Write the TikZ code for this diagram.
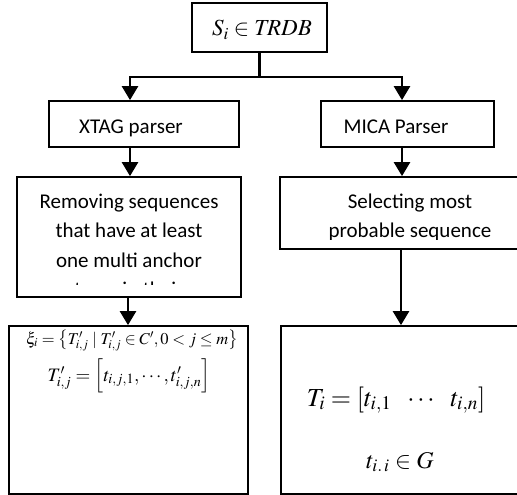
\documentclass[tikz,border=0pt]{standalone}
\usepackage{mathptmx}
\usepackage{fontspec}
\setmainfont{Carlito}
\usetikzlibrary{arrows.meta}
\begin{document}
\begin{tikzpicture}[x=1pt,y=-1pt,
  box/.style={draw, line width=1.8pt, inner sep=0pt},
  link/.style={line width=2.6pt},
  arr/.style={link, -{Triangle[length=14pt,width=16pt]}},
  txt/.style={font=\fontsize{21}{29.5}\selectfont, align=center, inner sep=0pt},
  eq/.style={inner sep=0pt, anchor=base}]
\clip (0,0) rectangle (517,495);

% boxes
\node[box, minimum width=135, minimum height=49] (src) at (259.5,27.5) {};
\node[box, minimum width=190, minimum height=46] (xtag) at (144,124) {};
\node[box, minimum width=173, minimum height=46] (mica) at (407.5,124) {};
\node[box, minimum width=224, minimum height=120] (remove) at (129,237) {};
\node[box, minimum width=265, minimum height=72] (select) at (412.5,213) {};
\node[box, minimum width=239, minimum height=168] (defs) at (128.5,410) {};
\node[box, minimum width=264, minimum height=168] (seq) at (413,410) {};

% texts
\node[eq, font=\fontsize{23}{27}\selectfont] (srct) at (262,36) {$S_i \in \mathit{TRDB}$};
\node[txt, anchor=base] (xtagt) at (131,133) {XTAG parser};
\node[txt, anchor=base] (micat) at (396,133) {MICA Parser};
\begin{scope}
  \clip (17,177) rectangle (241,284.5);
  \node[txt, anchor=north] (removet) at (129,193.5)
    {Removing sequences\\that have at least\\one multi anchor\\trees in their};
\end{scope}
\begin{scope}
  \clip (280,177) rectangle (517,239);
  \node[txt, anchor=north] (selectt) at (410,193.5)
    {Selecting most\\probable sequence};
\end{scope}
\node[eq, font=\fontsize{16.5}{20}\selectfont] (xi) at (132,344)
  {$\xi_i = \bigl\{ T'_{i,j} \mid T'_{i,j} \in C', 0 < j \le m \bigr\}$};
\node[eq, font=\fontsize{19}{23}\selectfont] (tij) at (129,381)
  {$T'_{i,j} = \left[ t_{i,j,1}, \cdots, t'_{i,j,n} \right]$};
\node[eq, font=\fontsize{26}{31}\selectfont] (ti) at (396,406)
  {$T_i = \left[ t_{i,1} \enspace \cdots \enspace t_{i,n} \right]$};
\node[eq, font=\fontsize{24}{28}\selectfont] (tg) at (400,468)
  {$t_{i.\,i} \in G$};

% connectors
\coordinate (split) at (259.5,77);
\coordinate (lc) at (130,0);
\coordinate (lc2) at (128,0);
\coordinate (rc) at (402,0);
\coordinate (rc2) at (401,0);
\draw[link] (src.south) -- (split);
\draw[arr] (split) -| (xtag.north -| lc);
\draw[arr] (split) -| (mica.north -| rc);
\draw[arr] (xtag.south -| lc) -- (remove.north -| lc);
\draw[arr] (mica.south -| rc) -- (select.north -| rc);
\draw[arr] (remove.south -| lc2) -- (defs.north -| lc2);
\draw[arr] (select.south -| rc2) -- (seq.north -| rc2);
\end{tikzpicture}
\end{document}
